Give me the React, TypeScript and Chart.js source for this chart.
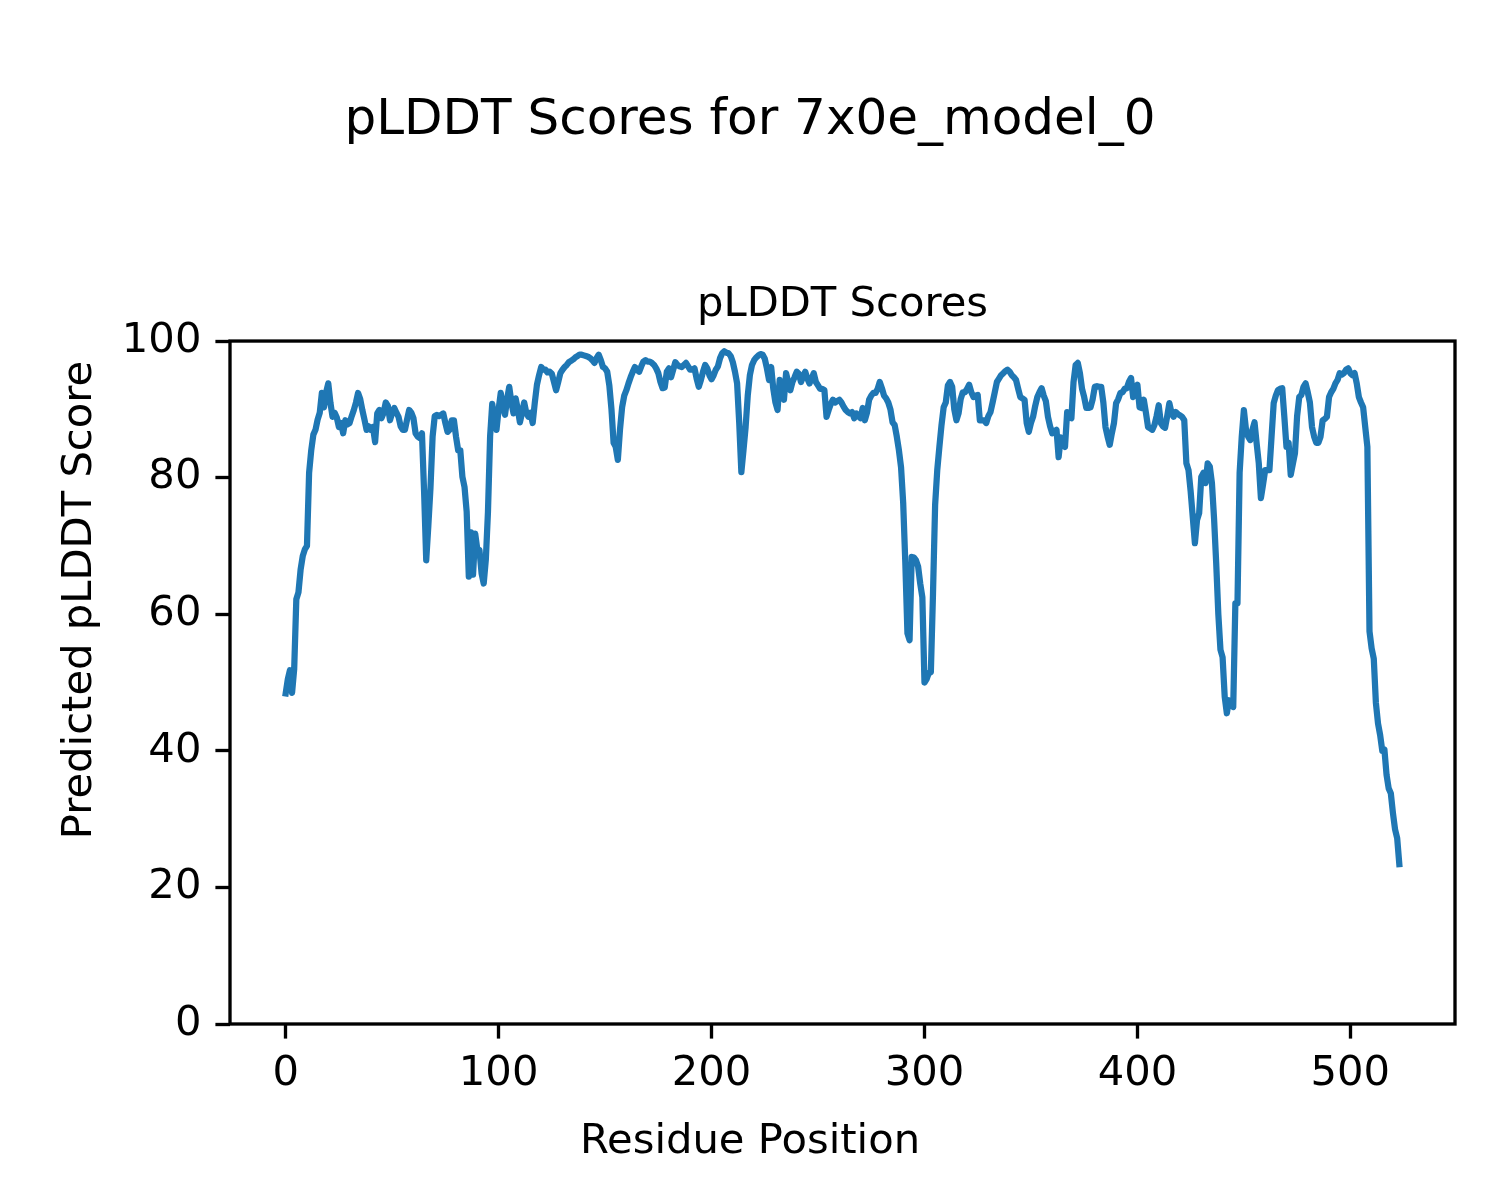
import React, { useEffect, useRef } from "react";
import { Chart, registerables } from "chart.js";

Chart.register(...registerables);

const titleText = "pLDDT Scores for 7x0e_model_0";
const subtitleText = "pLDDT Scores";
const xLabel = "Residue Position";
const yLabel = "Predicted pLDDT Score";
const xTicks = [0, 100, 200, 300, 400, 500];
const yTicks = [0, 20, 40, 60, 80, 100];
const xMin = -26.15;
const xMax = 549.15;
const yMin = 0;
const yMax = 100;

const plddtScores = [
  48.4, 50.5, 51.8, 48.5, 52.0, 62.2, 63.2, 66.5, 68.5, 69.5,
  70.0, 80.7, 84.0, 86.3, 87.0, 88.5, 89.5, 92.4, 90.3, 92.5,
  93.8, 91.0, 88.9, 89.5, 88.8, 87.4, 88.0, 86.5, 88.4, 87.8,
  88.0, 89.0, 89.9, 91.0, 92.4, 91.5, 89.9, 88.5, 87.0, 87.5,
  87.0, 87.4, 85.2, 89.4, 89.9, 88.7, 89.5, 91.0, 90.5, 88.4,
  89.5, 90.2, 89.5, 88.9, 87.5, 87.0, 87.0, 88.5, 89.9, 89.5,
  88.7, 86.5, 86.0, 85.8, 86.5, 78.0, 67.9, 73.0, 78.5, 86.0,
  89.0, 89.2, 89.0, 89.2, 89.4, 88.0, 86.7, 87.0, 88.4, 88.4,
  86.0, 84.0, 84.0, 80.1, 78.6, 75.0, 65.5, 72.0, 65.8, 71.8,
  69.5, 69.4, 66.0, 64.5, 68.0, 75.0, 86.0, 90.8, 88.5, 87.0,
  90.0, 92.4, 90.5, 89.2, 91.5, 93.3, 91.0, 89.4, 91.6, 90.0,
  88.1, 89.5, 91.0, 89.5, 88.9, 89.5, 88.0, 91.0, 93.6, 95.0,
  96.2, 95.8, 95.8, 95.4, 95.5, 95.2, 94.0, 92.8, 94.0, 95.3,
  95.8, 96.2, 96.5, 96.9, 97.1, 97.3, 97.6, 97.8, 98.0, 98.0,
  97.9, 97.8, 97.7, 97.5, 97.2, 96.8, 97.5, 98.0, 97.2, 96.2,
  96.0, 95.5, 93.5, 90.0, 85.1, 84.5, 82.6, 87.0, 90.3, 92.0,
  92.8, 93.8, 94.7, 95.5, 96.2, 95.8, 95.5, 96.3, 97.0, 97.2,
  97.0, 97.0, 96.8, 96.5, 96.0, 95.3, 94.0, 93.1, 93.2, 95.5,
  96.0, 94.7, 95.8, 96.9, 96.5, 96.3, 96.2, 96.5, 96.8, 96.3,
  95.8, 95.8, 96.0, 94.5, 93.3, 94.3, 95.5, 96.5, 96.0, 95.0,
  94.4, 95.0, 95.8, 96.3, 97.5, 98.2, 98.5, 98.3, 98.2, 97.8,
  96.9, 95.5, 93.8, 88.0, 80.8, 84.0, 87.4, 92.0, 95.0, 96.5,
  97.2, 97.6, 97.9, 98.1, 98.0, 97.4, 96.0, 94.3, 96.2, 93.0,
  91.0, 89.9, 94.3, 92.0, 91.4, 95.3, 94.0, 92.8, 94.0, 94.7,
  95.5, 95.2, 94.0, 94.8, 95.5, 94.5, 93.8, 94.5, 95.3, 94.0,
  93.5, 93.0, 93.0, 92.8, 88.9, 89.9, 90.8, 91.4, 91.0, 91.2,
  91.4, 91.0, 90.4, 89.9, 89.6, 89.4, 89.6, 88.7, 89.4, 89.0,
  88.7, 90.2, 88.4, 89.5, 91.4, 92.0, 92.4, 92.4, 93.0, 94.0,
  93.1, 92.0, 91.6, 91.0, 90.0, 88.1, 87.7, 86.0, 84.0, 81.5,
  76.3, 67.5, 57.2, 56.2, 68.4, 68.3, 67.9, 67.0, 64.5, 62.5,
  50.0, 50.5, 51.4, 51.5, 63.0, 76.0, 81.1, 84.5, 87.7, 90.3,
  91.0, 93.5, 94.0, 93.3, 90.0, 88.4, 89.4, 91.5, 92.5, 92.5,
  93.0, 93.6, 92.5, 91.8, 92.0, 92.1, 88.4, 88.4, 88.4, 88.0,
  89.0, 89.6, 91.0, 92.5, 94.0, 94.5, 95.0, 95.3, 95.6, 95.8,
  95.5, 95.0, 94.7, 94.3, 93.0, 91.8, 91.6, 91.4, 88.0, 86.7,
  88.0, 88.9, 90.5, 91.8, 92.5, 93.1, 92.0, 91.2, 88.9, 87.5,
  86.5, 86.8, 87.0, 83.0, 85.9, 85.0, 84.5, 89.6, 88.9, 88.7,
  94.0, 96.5, 96.8, 95.3, 93.0, 91.8, 90.2, 90.2, 90.3, 91.5,
  93.3, 93.4, 93.3, 93.3, 91.0, 87.4, 86.0, 84.8, 86.5, 88.0,
  90.9, 91.5, 92.4, 92.5, 93.0, 93.1, 94.0, 94.6, 91.8, 93.0,
  93.6, 90.3, 90.2, 91.4, 89.5, 87.4, 87.2, 87.0, 87.7, 89.0,
  90.6, 88.0, 87.5, 87.3, 89.0, 90.9, 89.5, 88.9, 89.6, 89.3,
  89.1, 88.9, 88.4, 82.1, 81.1, 78.0, 74.2, 70.4, 73.8, 74.8,
  80.1, 80.7, 79.2, 82.1, 81.6, 79.2, 74.0, 67.5, 60.0, 54.8,
  53.7, 47.9, 45.5, 47.4, 47.0, 46.4, 61.6, 61.6, 80.7, 86.0,
  89.9, 87.0, 86.0, 85.5, 87.0, 88.1, 85.0, 82.1, 77.0, 79.0,
  81.1, 81.1, 81.1, 86.0, 90.9, 92.0, 92.8, 93.0, 93.1, 88.9,
  84.5, 85.1, 80.4, 82.0, 83.6, 89.0, 91.8, 92.1, 93.3, 93.8,
  92.5, 91.0, 87.4, 86.0, 85.1, 85.1, 86.0, 88.4, 88.6, 88.9,
  91.8, 92.5, 93.0, 93.8, 94.3, 95.3, 95.1, 95.3, 95.8, 96.0,
  95.3, 95.0, 95.3, 93.8, 91.8, 91.0, 90.3, 87.4, 84.5, 57.5,
  55.0, 53.5, 47.0, 44.0, 42.3, 40.0, 40.2, 36.5, 34.5, 33.8,
  30.9, 28.5, 27.2, 23.4,
];

const firstResidue = 0;
const residuePositions = plddtScores.map((_, i) => firstResidue + i);

const FONT = "'DejaVu Sans', 'Liberation Sans', sans-serif";
const LINE_COLOR = "#1f77b4";

const figureLabels = {
  id: "figureLabels",
  afterDraw(chart: any) {
    const ctx = chart.ctx as CanvasRenderingContext2D;
    const { left, right, top, bottom } = chart.chartArea;
    ctx.save();
    ctx.strokeStyle = "#000";
    ctx.lineWidth = 3.33;
    ctx.strokeRect(left, top, right - left, bottom - top);
    ctx.restore();

    ctx.save();
    ctx.fillStyle = "#000";
    ctx.font = `41.7px ${FONT}`;
    ctx.textAlign = "center";
    ctx.textBaseline = "alphabetic";
    ctx.fillText(xLabel, 750, 1153);
    ctx.translate(91, 600);
    ctx.rotate(-Math.PI / 2);
    ctx.fillText(yLabel, 0, 0);
    ctx.restore();
  },
};

export default function App() {
  const canvasRef = useRef<HTMLCanvasElement | null>(null);

  useEffect(() => {
    const canvas = canvasRef.current;
    if (!canvas) return;
    const data = residuePositions.map((x, i) => ({ x, y: plddtScores[i] }));
    const tickFont = { family: FONT, size: 41.7 };
    const chart = new Chart(canvas, {
      type: "line",
      data: {
        datasets: [
          {
            label: "pLDDT",
            data,
            borderColor: LINE_COLOR,
            backgroundColor: LINE_COLOR,
            borderWidth: 6.25,
            pointRadius: 0,
            tension: 0,
            fill: false,
            borderJoinStyle: "round",
            borderCapStyle: "square",
          },
        ],
      },
      options: {
        responsive: false,
        animation: false,
        devicePixelRatio: 1,
        layout: { padding: { left: 45, right: 45, top: 0, bottom: 0 } },
        plugins: {
          legend: { display: false },
          tooltip: { enabled: false },
          title: {
            display: true,
            text: titleText,
            color: "#000",
            font: { family: FONT, size: 50, weight: "normal", lineHeight: 1.2 },
            padding: { top: 91.5, bottom: 0 },
          },
          subtitle: {
            display: true,
            text: subtitleText,
            color: "#000",
            fullSize: false,
            font: { family: FONT, size: 41.7, weight: "normal", lineHeight: 1.2 },
            padding: { top: 129, bottom: 10.5 },
          },
        },
        scales: {
          x: {
            type: "linear",
            min: xMin,
            max: xMax,
            afterBuildTicks: (s: any) => {
              s.ticks = xTicks.map((v) => ({ value: v }));
            },
            afterFit: (s: any) => {
              s.height = 176;
            },
            grid: {
              display: true,
              drawOnChartArea: false,
              drawTicks: true,
              tickLength: 14.6,
              tickWidth: 3.33,
              tickColor: "#000",
            },
            border: { display: false },
            ticks: {
              color: "#000",
              font: tickFont,
              padding: 11,
              maxRotation: 0,
              autoSkip: false,
              callback: (v: any) => String(v),
            },
          },
          y: {
            type: "linear",
            min: yMin,
            max: yMax,
            afterBuildTicks: (s: any) => {
              s.ticks = yTicks.map((v) => ({ value: v }));
            },
            afterFit: (s: any) => {
              s.width = 185;
            },
            grid: {
              display: true,
              drawOnChartArea: false,
              drawTicks: true,
              tickLength: 14.6,
              tickWidth: 3.33,
              tickColor: "#000",
            },
            border: { display: false },
            ticks: {
              color: "#000",
              font: tickFont,
              padding: 14,
              autoSkip: false,
              callback: (v: any) => String(v),
            },
          },
        },
      },
      plugins: [figureLabels],
    } as any);
    return () => chart.destroy();
  }, []);

  return (
    <div style={{ position: "absolute", left: 0, top: 0, width: 1500, height: 1200, background: "#fff" }}>
      <canvas ref={canvasRef} width={1500} height={1200} style={{ width: 1500, height: 1200, display: "block" }} />
    </div>
  );
}
